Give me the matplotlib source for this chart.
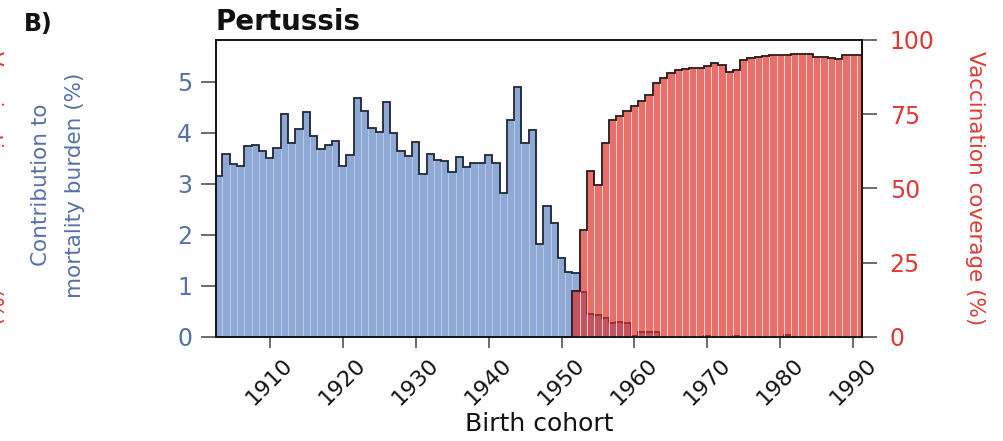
import numpy as np
import matplotlib
matplotlib.use("Agg")
import matplotlib.pyplot as plt

# birth cohorts and series
blue_years = np.arange(1903, 1992)
blue_vals = [
    3.16, 3.58, 3.38, 3.35, 3.74, 3.77, 3.65, 3.51, 3.71, 4.37,   # 1903-1912
    3.79, 4.07, 4.41, 3.93, 3.69, 3.76, 3.84, 3.35, 3.56, 4.69,   # 1913-1922
    4.42, 4.10, 4.01, 4.60, 4.00, 3.64, 3.54, 3.81, 3.20, 3.58,   # 1923-1932
    3.46, 3.44, 3.24, 3.53, 3.32, 3.40, 3.40, 3.56, 3.40, 2.81,   # 1933-1942
    4.26, 4.90, 3.79, 4.05, 1.81, 2.56, 2.24, 1.54, 1.27, 1.24,   # 1943-1952
    0.88, 0.45, 0.42, 0.36, 0.26, 0.28, 0.26, 0.01, 0.10, 0.10,   # 1953-1962
    0.10, 0.0, 0.0, 0.0, 0.0, 0.0, 0.0, 0.02, 0.0, 0.0,           # 1963-1972
    0.0, 0.02, 0.0, 0.0, 0.0, 0.0, 0.0, 0.0, 0.03, 0.0,           # 1973-1982
    0.0, 0.0, 0.0, 0.0, 0.0, 0.0, 0.0, 0.0, 0.0,                  # 1983-1991
]

red_years = np.arange(1952, 1992)
red_vals = [
    15.5, 35.9, 56.0, 51.0, 65.4, 72.9, 74.3, 76.2, 77.7, 79.3,   # 1952-1961
    81.3, 85.6, 87.3, 89.0, 89.9, 90.2, 90.4, 90.7, 91.2, 92.1,   # 1962-1971
    91.6, 89.1, 90.0, 93.3, 94.0, 94.2, 94.6, 94.8, 94.9, 95.0,   # 1972-1981
    95.2, 95.3, 95.3, 94.4, 94.4, 94.1, 93.6, 94.8, 95.0, 95.0,   # 1982-1991
]

left_ticks = [0, 1, 2, 3, 4, 5]
right_ticks = [0, 25, 50, 75, 100]
x_ticks = list(range(1910, 2000, 10))

BLUE = "#8ea9d5"
BLUE_TXT = "#5572a8"
RED = (0.88, 0.16, 0.14)
RED_TXT = "#de3b36"

fig = plt.figure(figsize=(10.04, 4.41), dpi=100)
ax = fig.add_axes([0.215, 0.2365, 0.6435, 0.6728])
ax2 = ax.twinx()

# blue: contribution to mortality burden
ax.bar(blue_years, blue_vals, width=1.0, color=BLUE,
       edgecolor=(1, 1, 1, 0.18), linewidth=0.6, zorder=1)
ax.stairs(blue_vals, np.append(blue_years - 0.5, blue_years[-1] + 0.5),
          color="#1e2535", lw=1.3, baseline=0, zorder=2)

# red: vaccination coverage, translucent over the blue
ax2.bar(red_years, red_vals, width=1.0, color=RED, alpha=0.68,
        edgecolor=(1, 1, 1, 0.12), linewidth=0.6, zorder=1)
ax2.stairs(red_vals, np.append(red_years - 0.5, red_years[-1] + 0.5),
           color="#2a1515", lw=1.3, baseline=0, zorder=2)

ax.set_xlim(1902.6, 1991.2)
ax.set_ylim(0, 5.82)
ax2.set_ylim(0, 100)

ax.set_yticks(left_ticks)
ax2.set_yticks(right_ticks)
ax.set_xticks(x_ticks)
ax.set_xticklabels([str(t) for t in x_ticks], rotation=45, ha="center", va="top")

ax.tick_params(axis="y", length=11, width=1.1, color="#444", pad=6,
               labelsize=17, labelcolor=BLUE_TXT)
ax.tick_params(axis="x", length=8, width=1.1, color="#444", pad=5,
               labelsize=16, labelcolor="#111")
ax2.tick_params(axis="y", length=11, width=1.1, color="#444", pad=9,
                labelsize=17, labelcolor=RED_TXT)

for a in (ax, ax2):
    for sp in a.spines.values():
        sp.set_color("#111")
        sp.set_linewidth(1.2)

fig.text(58 / 1004, 1 - 185 / 441, "Contribution to\nmortality burden (%)",
         rotation=90, ha="center", va="center", multialignment="center",
         linespacing=1.9, fontsize=15.5, color=BLUE_TXT)
fig.text(975 / 1004, 1 - 188 / 441, "Vaccination coverage (%)",
         rotation=270, ha="center", va="center", fontsize=15.5, color=RED_TXT)
# clipped label of the neighbouring panel at the left edge
fig.text(3 / 1004, 1 - 188 / 441, "Vaccination coverage (%)",
         rotation=270, ha="right", va="center", fontsize=15.5, color=RED_TXT)

fig.text(539 / 1004, 1 - 424 / 441, "Birth cohort", ha="center", va="center",
         fontsize=18, color="#111")
fig.text(24 / 1004, 1 - 24 / 441, "B)", ha="left", va="center",
         fontsize=17, fontweight="bold", color="#111")
fig.text(216 / 1004, 1 - 22 / 441, "Pertussis", ha="left", va="center",
         fontsize=20, fontweight="bold", color="#111")

fig.savefig("out.png", dpi=100)
